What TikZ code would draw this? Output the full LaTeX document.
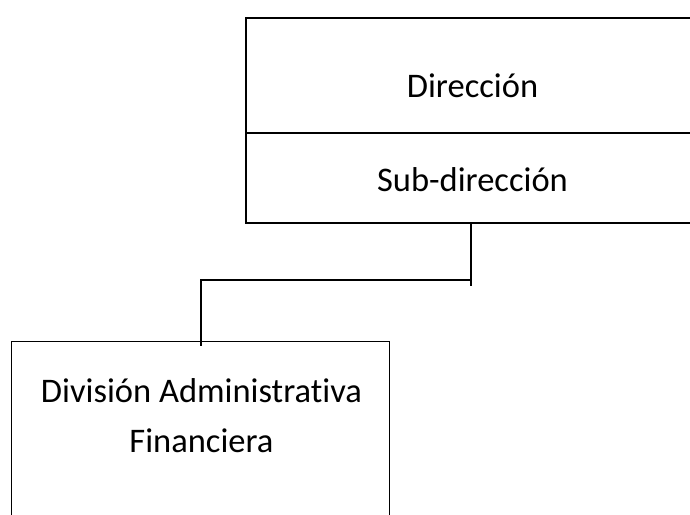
\documentclass[tikz,border=0pt]{standalone}
\usepackage{fontspec}
\setmainfont{Carlito}[Ligatures={NoCommon,NoContextual}]
\begin{document}
\begin{tikzpicture}[x=1pt,y=1pt,
  topbox/.style={draw=black, line width=2.2pt, rectangle, inner sep=0pt},
  lowbox/.style={draw=black, line width=1pt, rectangle, inner sep=0pt},
  conn/.style={draw=black, line width=1.3pt},
  lbl/.style={anchor=base, inner sep=0pt, font=\fontsize{34.5}{50}\selectfont, align=center}]
\useasboundingbox (0,0) rectangle (690,-514);
\fill[white] (0,0) rectangle (690,-514);
% top boxes
\node[topbox, minimum width=452pt, minimum height=115pt] (dir) at (472,-75.5) {};
\node[topbox, minimum width=452pt, minimum height=90pt] (sub) at (472,-178) {};
\node[lbl] (dirt) at (472.5,-97) {Dirección};
\node[lbl] (subt) at (472.5,-191) {Sub-dirección};
% lower box
\node[lowbox, minimum width=378pt, minimum height=200pt] (div) at (200,-441) {};
\node[lbl] (divt) at (201.5,-452) {División Administrativa\\Financiera};
% connectors
\coordinate (c1) at (471,-286);
\coordinate (c2) at (469.5,-280);
\coordinate (c3) at (201,-280);
\coordinate (c4) at (201,-346);
\draw[conn] (sub.south -| c1) -- (c1);
\draw[conn] (c2) -- (c3) -- (c4);
\end{tikzpicture}
\end{document}
